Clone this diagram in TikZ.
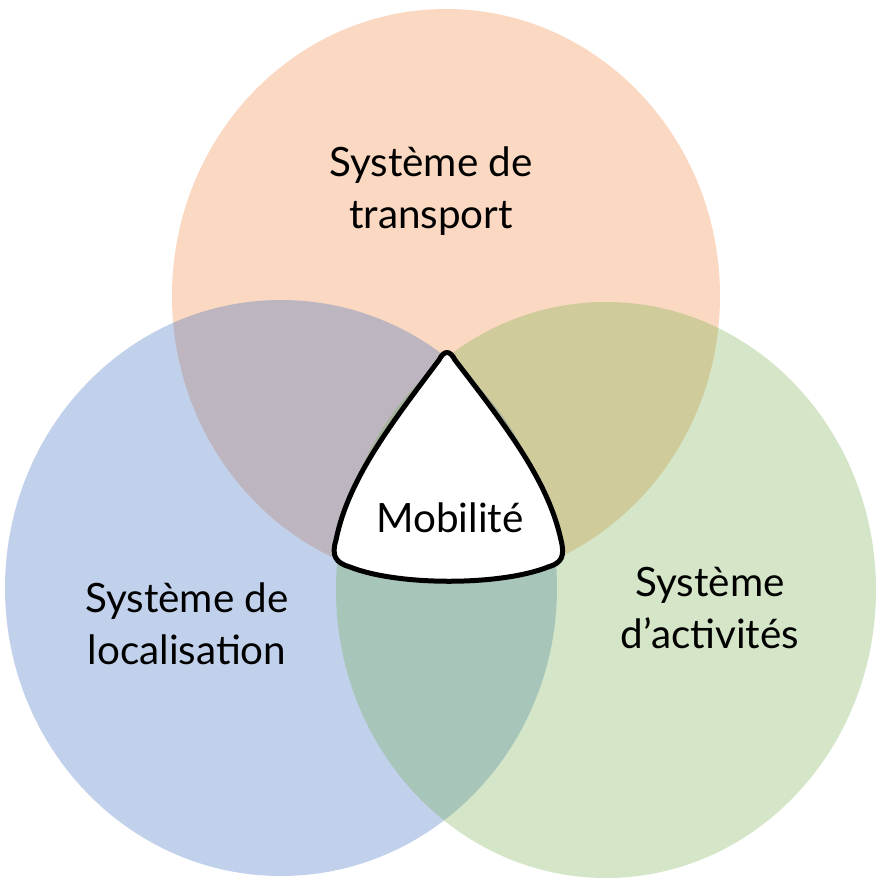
\documentclass[tikz,border=0pt]{standalone}
\usepackage{fontspec}
\setmainfont{Lato}
\usepackage{tikz}
\usetikzlibrary{positioning}

\definecolor{transC}{RGB}{237,125,49}
\definecolor{locC}{RGB}{68,114,196}
\definecolor{actC}{RGB}{112,173,71}

\begin{document}
\begin{tikzpicture}[
  x=0.2mm, y=-0.2mm,
  font=\fontsize{23}{29.6}\selectfont,
  set/.style={fill opacity=0.3},
  txt/.style={align=center, text=black},
  mob/.style={draw=black, fill=white, line width=1mm, line join=round},
]
\useasboundingbox (0,0) rectangle (878,878);

% --- the three sets ---
\fill[set, transC] (446,296) ellipse [x radius=274, y radius=287];
\fill[set, locC, fill opacity=0.33] (281,588) ellipse [x radius=276, y radius=288];
\fill[set, actC]   (606,590) ellipse [x radius=270, y radius=288];

% --- labels of the sets ---
\node[txt] (transport)    at (431,191) {Système de\\transport};
\node[txt] (localisation) at (187,624) {Système de\\localisation};
\node[txt] (activites)    at (710,608) {Système\\d'activités};

% --- centre ---
\draw[mob] (439,360) .. controls (444,350) and (450,350) .. (455,360)
  .. controls (505,425) and (548,480) .. (561,540)
  .. controls (565,556) and (562,563) .. (548,567)
  .. controls (500,586) and (398,586) .. (350,567)
  .. controls (336,563) and (331,556) .. (336,540)
  .. controls (348,480) and (390,425) .. cycle;
\node[txt] (mobilite) at (450,518) {Mobilité};

\end{tikzpicture}
\end{document}
